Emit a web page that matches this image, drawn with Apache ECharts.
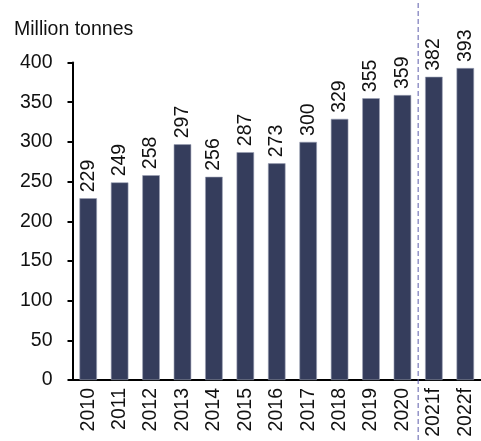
<!DOCTYPE html>
<html>
<head>
<meta charset="utf-8">
<script src="https://cdn.jsdelivr.net/npm/echarts@6/dist/echarts.min.js"></script>
<style>
html,body{margin:0;padding:0;background:#fff;}
#c{width:481px;height:441px;}
</style>
</head>
<body>
<div id="c"></div>
<script>
const categories = ['2010','2011','2012','2013','2014','2015','2016','2017','2018','2019','2020','2021f','2022f'];
const values = [229,249,258,297,256,287,273,300,329,355,359,382,393];
const yTicks = {min:0, max:400, interval:50};
const forecastStart = '2021f';
const unitLabel = 'Million tonnes';

const FONT = '"Liberation Sans", Arial, sans-serif';
const chart = echarts.init(document.getElementById('c'), null, {renderer:'canvas'});
chart.setOption({
  animation:false,
  backgroundColor:'#fff',
  title:{text:unitLabel,left:9,top:15,textStyle:{fontFamily:FONT,fontSize:19.5,fontWeight:'normal',color:'#111'}},
  grid:{left:72.5,right:-4,top:62.5,bottom:61,containLabel:false},
  xAxis:{type:'category',data:categories,
    axisLine:{lineStyle:{color:'#000',width:2}},
    axisTick:{show:false},
    axisLabel:{rotate:90,margin:8,fontFamily:FONT,fontSize:19.5,color:'#111'}},
  yAxis:{type:'value',min:yTicks.min,max:yTicks.max,interval:yTicks.interval,
    axisLine:{show:true,lineStyle:{color:'#000',width:2}},
    axisTick:{show:true,length:5,inside:false,lineStyle:{color:'#000',width:2}},
    splitLine:{show:false},
    axisLabel:{margin:20,fontFamily:FONT,fontSize:19.5,color:'#111'}},
  series:[{type:'bar',data:values,barWidth:17.5,
    itemStyle:{color:'#353d5c',borderColor:'#9aa0b4',borderWidth:0.6},
    label:{show:true,position:'top',rotate:90,align:'left',verticalAlign:'middle',distance:6,
      fontFamily:FONT,fontSize:19.5,color:'#111'}}]
});
const i = categories.indexOf(forecastStart);
const a = chart.convertToPixel({xAxisIndex:0}, categories[i-1]);
const b = chart.convertToPixel({xAxisIndex:0}, categories[i]);
const x = (a+b)/2;
chart.setOption({graphic:[{type:'line',shape:{x1:x,y1:3,x2:x,y2:441},
  style:{stroke:'#5c5cab',lineWidth:1,lineDash:[5,3]},z:10}]});
</script>
</body>
</html>
